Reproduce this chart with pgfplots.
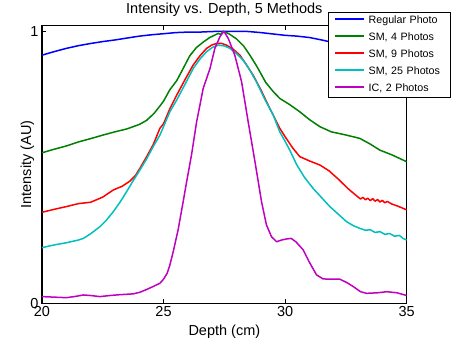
\documentclass[border=0pt]{standalone}
\usepackage{pgfplots}
\pgfplotsset{compat=1.18}
\usepackage{fontspec}
\setmainfont{Liberation Sans}
\definecolor{mblue}{rgb}{0,0,1}
\definecolor{mgreen}{rgb}{0,0.5,0}
\definecolor{mred}{rgb}{1,0,0}
\definecolor{mcyan}{rgb}{0,0.75,0.75}
\definecolor{mmag}{rgb}{0.75,0,0.75}
\begin{document}
\begin{tikzpicture}
\begin{axis}[name=ax, scale only axis, width=365pt, height=277.5pt,
  xmin=20, xmax=35, ymin=0, ymax=1.02,
  xtick={20,25,30,35}, ytick={0,1},
  tick align=inside, major tick length=4pt,
  tick style={black, line width=0.7pt},
  axis line style={black, line width=1.1pt},
  /pgf/number format/assume math mode=true,
  tick label style={font=\fontsize{14.5}{17}\selectfont},
  label style={font=\fontsize{14.5}{17}\selectfont},
  title style={font=\fontsize{14.5}{17}\selectfont, at={(axis description cs:0.5,1)}, anchor=base, yshift=6pt},
  title={Intensity vs. Depth, 5 Methods},
  xlabel={Depth (cm)},
  xlabel style={at={(axis description cs:0.5,0)}, anchor=base, yshift=-32.5pt},
  ylabel={Intensity (AU)},
  ylabel style={at={(axis description cs:-0.030,0.5)}, anchor=base},
  legend cell align=left,
  legend image code/.code={\draw[#1] (0pt,1.8pt) -- (29pt,1.8pt);},
  legend style={at={(axis description cs:0.7836,1.0505)}, anchor=north west,
    draw=black, line width=0.8pt, fill=white,
    font=\fontsize{10.7}{12}\selectfont,
    inner xsep=6pt, inner ysep=3pt, row sep=6pt,
    nodes={inner sep=0pt, text height=8.5pt, text depth=2.5pt, text width=76pt},
    /tikz/every odd column/.append style={column sep=4pt}},
  every axis plot/.append style={line width=1.5pt, line join=round}
]
\addplot[mblue] coordinates {
(20,0.912)(20.5,0.925)(21,0.937)(21.5,0.947)(22,0.955)(22.5,0.962)(23,0.968)(23.5,0.975)(24,0.982)(24.5,0.987)(25,0.991)(25.5,0.995)(26,0.997)(26.5,0.997)(27,0.999)(27.5,1.0)(28,1.0)(28.5,0.999)(29,0.995)(29.5,0.99)(30,0.985)(30.5,0.982)(31,0.977)(31.5,0.968)(32,0.958)(32.5,0.950)(33,0.942)(33.5,0.935)(34,0.928)(34.5,0.920)(35,0.912)};
\addlegendentry{Regular Photo}
\addplot[mgreen] coordinates {
(20,0.553)(20.5,0.566)(21,0.578)(21.5,0.593)(22,0.605)(22.5,0.618)(23,0.630)(23.5,0.641)(24,0.657)(24.3,0.672)(24.6,0.697)(24.85,0.725)(25.0,0.743)(25.26,0.785)(25.54,0.818)(25.8,0.862)(26.08,0.910)(26.35,0.940)(26.63,0.960)(26.9,0.977)(27.25,0.992)(27.35,0.988)(27.45,1.0)(27.7,0.99)(28.0,0.972)(28.3,0.945)(28.55,0.912)(28.8,0.876)(28.96,0.851)(29.2,0.812)(29.51,0.778)(29.78,0.753)(30.19,0.730)(30.6,0.704)(31.0,0.675)(31.43,0.649)(31.9,0.630)(32.52,0.618)(33.07,0.606)(33.5,0.585)(33.89,0.563)(34.4,0.545)(35,0.52)};
\addlegendentry{SM, 4 Photos}
\addplot[mred] coordinates {
(20,0.334)(20.5,0.345)(21,0.355)(21.5,0.366)(22,0.371)(22.5,0.390)(22.93,0.416)(23.3,0.430)(23.62,0.449)(23.85,0.47)(24.03,0.496)(24.3,0.538)(24.57,0.582)(24.85,0.643)(25.0,0.660)(25.26,0.715)(25.54,0.765)(25.9,0.825)(26.22,0.876)(26.5,0.910)(26.77,0.937)(27.0,0.950)(27.18,0.955)(27.4,0.955)(27.59,0.949)(27.85,0.935)(28.14,0.912)(28.4,0.878)(28.68,0.839)(29.0,0.785)(29.37,0.716)(29.78,0.643)(30.0,0.612)(30.3,0.572)(30.6,0.539)(31.0,0.523)(31.43,0.508)(31.8,0.487)(32.2,0.455)(32.6,0.42)(33.0,0.39)(33.1,0.383)(33.2,0.389)(33.3,0.380)(33.4,0.386)(33.5,0.377)(33.6,0.384)(33.7,0.375)(33.8,0.381)(33.9,0.372)(34.0,0.378)(34.1,0.369)(34.2,0.374)(34.4,0.364)(34.6,0.358)(35,0.343)};
\addlegendentry{SM, 9 Photos}
\addplot[mcyan] coordinates {
(20,0.204)(20.5,0.214)(21,0.222)(21.5,0.232)(21.7,0.238)(22.0,0.255)(22.38,0.281)(22.65,0.305)(22.93,0.336)(23.2,0.370)(23.48,0.410)(23.75,0.450)(24.03,0.490)(24.3,0.530)(24.57,0.575)(24.85,0.618)(25.26,0.704)(25.54,0.747)(25.9,0.808)(26.22,0.863)(26.5,0.898)(26.77,0.925)(27.0,0.940)(27.25,0.949)(27.5,0.946)(27.73,0.937)(28.0,0.918)(28.27,0.894)(28.55,0.857)(28.82,0.814)(29.15,0.752)(29.51,0.692)(29.78,0.630)(30.0,0.595)(30.19,0.563)(30.47,0.510)(30.8,0.462)(31.15,0.422)(31.5,0.388)(31.84,0.355)(32.2,0.326)(32.52,0.300)(32.8,0.285)(33.07,0.275)(33.3,0.268)(33.5,0.270)(33.7,0.260)(33.9,0.263)(34.1,0.253)(34.3,0.256)(34.5,0.246)(34.7,0.249)(34.85,0.238)(35,0.232)};
\addlegendentry{SM, 25 Photos}
\addplot[mmag] coordinates {
(20,0.024)(20.5,0.022)(21.0,0.020)(21.4,0.025)(21.7,0.030)(22.0,0.028)(22.38,0.024)(22.8,0.028)(23.2,0.031)(23.75,0.034)(24.03,0.040)(24.3,0.050)(24.57,0.061)(24.85,0.073)(25.0,0.088)(25.15,0.11)(25.26,0.14)(25.4,0.19)(25.6,0.27)(25.8,0.37)(25.95,0.447)(26.15,0.545)(26.36,0.667)(26.5,0.73)(26.63,0.79)(26.91,0.863)(27.11,0.937)(27.32,0.98)(27.48,1.0)(27.66,0.974)(27.93,0.912)(28.21,0.814)(28.48,0.667)(28.76,0.52)(29.03,0.373)(29.23,0.288)(29.44,0.244)(29.65,0.226)(29.85,0.232)(30.06,0.236)(30.25,0.238)(30.45,0.225)(30.74,0.196)(31.0,0.15)(31.29,0.104)(31.56,0.089)(31.9,0.088)(32.25,0.088)(32.55,0.075)(32.8,0.061)(33.1,0.042)(33.35,0.036)(33.8,0.038)(34.18,0.042)(34.6,0.038)(35,0.028)};
\addlegendentry{IC, 2 Photos}
\end{axis}
\path (ax.south west) ++(-42pt,-43.5pt) rectangle ++(451pt,345pt);
\end{tikzpicture}
\end{document}
